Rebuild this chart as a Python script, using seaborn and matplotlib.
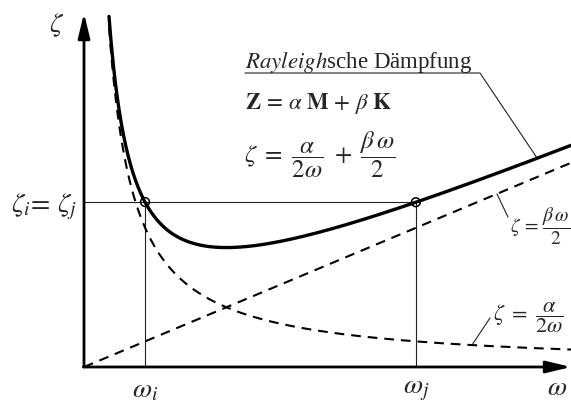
import numpy as np
import pandas as pd
import matplotlib
matplotlib.use("Agg")
import matplotlib.pyplot as plt
import seaborn as sns

# ---- data ----
omega_i = 1.0          # first matched frequency
omega_j = 5.44         # second matched frequency
zeta_0 = 1.0           # common damping ratio zeta_i = zeta_j
alpha = 1.69           # mass-proportional coefficient
beta = 0.31            # stiffness-proportional coefficient
omega_start = 0.41     # where the curves leave the top of the drawing
omega_end = 7.984      # right edge of the drawing
tick_positions = [omega_i, omega_j]
tick_labels = [r'$\omega_i$', r'$\omega_j$']
ytick_positions = [zeta_0]
ytick_labels = [r'$\zeta_i\!=\,\zeta_j$']

sns.set_theme(style="white")
plt.rcParams['font.family'] = ['Liberation Serif', 'DejaVu Serif']
plt.rcParams['mathtext.fontset'] = 'stix'
plt.rcParams['lines.scale_dashes'] = False

w = np.linspace(omega_start, omega_end, 600)
w_lin = np.linspace(0.0, omega_end, 200)
df_total = pd.DataFrame({'omega': w, 'zeta': alpha / (2 * w) + beta * w / 2})
df_mass = pd.DataFrame({'omega': w, 'zeta': alpha / (2 * w)})
df_stiff = pd.DataFrame({'omega': w_lin, 'zeta': beta * w_lin / 2})
pts = pd.DataFrame({'omega': [omega_i, omega_j]})
pts['zeta'] = alpha / (2 * pts['omega']) + beta * pts['omega'] / 2

fig = plt.figure(figsize=(5.71, 4.04), dpi=100)
ax = fig.add_axes([84 / 571, 37 / 404, 487 / 571, 367 / 404])
ax.set_xlim(0, omega_end)
ax.set_ylim(0, 367 / 165)
for s in ax.spines.values():
    s.set_visible(False)

# guide lines
ax.hlines(zeta_0, 0, omega_j, color='#222222', lw=0.8, zorder=2)
ax.vlines([omega_i, omega_j], 0, zeta_0, color='#222222', lw=0.8, zorder=2)

# curves
dash = (0, (7, 5))
sns.lineplot(data=df_mass, x='omega', y='zeta', ax=ax, color='black', lw=1.5,
             estimator=None, sort=False, linestyle=dash, zorder=3)
sns.lineplot(data=df_stiff, x='omega', y='zeta', ax=ax, color='black', lw=1.5,
             estimator=None, sort=False, linestyle=dash, zorder=3)
sns.lineplot(data=df_total, x='omega', y='zeta', ax=ax, color='black', lw=2.4,
             estimator=None, sort=False, zorder=4)
sns.scatterplot(data=pts, x='omega', y='zeta', ax=ax, s=40, facecolor='none',
                edgecolor='black', linewidth=1.1, zorder=5)

# axes with arrows
arrow_kw = dict(arrowstyle='-|>,head_length=1.5,head_width=0.36', lw=2.0,
                color='black', shrinkA=0, shrinkB=0, mutation_scale=10)
a1 = ax.annotate('', xy=(0, 2.145), xytext=(0, 0), arrowprops=arrow_kw,
                 annotation_clip=False)
a2 = ax.annotate('', xy=(omega_end, 0), xytext=(-0.01, 0), arrowprops=arrow_kw,
                 annotation_clip=False)
for a in (a1, a2):
    a.arrow_patch.set_clip_on(False)

# ticks and labels
ax.set_xticks(tick_positions, tick_labels)
ax.set_yticks(ytick_positions, ytick_labels)
ax.tick_params(axis='x', length=0, labelsize=20, pad=8)
ax.tick_params(axis='y', length=0, labelsize=20, pad=5)
ax.set_xlabel(r'$\omega$', fontsize=20)
ax.xaxis.set_label_coords((557 - 84) / 487, -(376 - 367) / 367)
ax.set_ylabel(r'$\zeta$', fontsize=20, rotation=0, va='center')
ax.yaxis.set_label_coords((57 - 84) / 487, (367 - 25) / 367)

def d(px, py):
    return ((px - 84) / 61, (367 - py) / 165)

# Rayleigh label with underline and leader
w_lead = 7.43
z_lead = alpha / (2 * w_lead) + beta * w_lead / 2
p0, p1 = d(245, 73), d(480, 73)
ax.plot([p0[0], p1[0], w_lead], [p0[1], p1[1], z_lead], color='#222222', lw=0.8,
        zorder=2)
tx, ty = d(245, 68)
ax.text(tx, ty, r'$\mathit{Rayleigh}$sche Dämpfung', fontsize=16.5, ha='left',
        va='baseline')
tx, ty = d(245, 104)
ax.text(tx, ty, r'$\mathbf{Z}\,=\,\alpha\ \mathbf{M}\,+\,\beta\ \mathbf{K}$',
        fontsize=16.5, ha='left', va='center')
tx, ty = d(244, 155)
ax.text(tx, ty, r'$\zeta\ =\ \dfrac{\alpha}{2\omega}\ +\ \dfrac{\beta\,\omega}{2}$',
        fontsize=18, ha='left', va='center')

# small labels on the dashed curves
w_s = 6.77
z_s = beta * w_s / 2
q = d(508, 217)
ax.plot([w_s, q[0]], [z_s, q[1]], color='#222222', lw=0.8, zorder=2)
tx, ty = d(510, 226)
ax.text(tx, ty, r'$\zeta\,=\,\dfrac{\beta\,\omega}{2}$', fontsize=14, ha='left',
        va='center')

w_m = 6.36
z_m = alpha / (2 * w_m)
q = d(490, 318)
ax.plot([w_m, q[0]], [z_m, q[1]], color='#222222', lw=0.8, zorder=2)
tx, ty = d(493, 318)
ax.text(tx, ty, r'$\zeta\ =\ \dfrac{\alpha}{2\omega}$', fontsize=16, ha='left',
        va='center')

fig.savefig('out.png', dpi=100)
